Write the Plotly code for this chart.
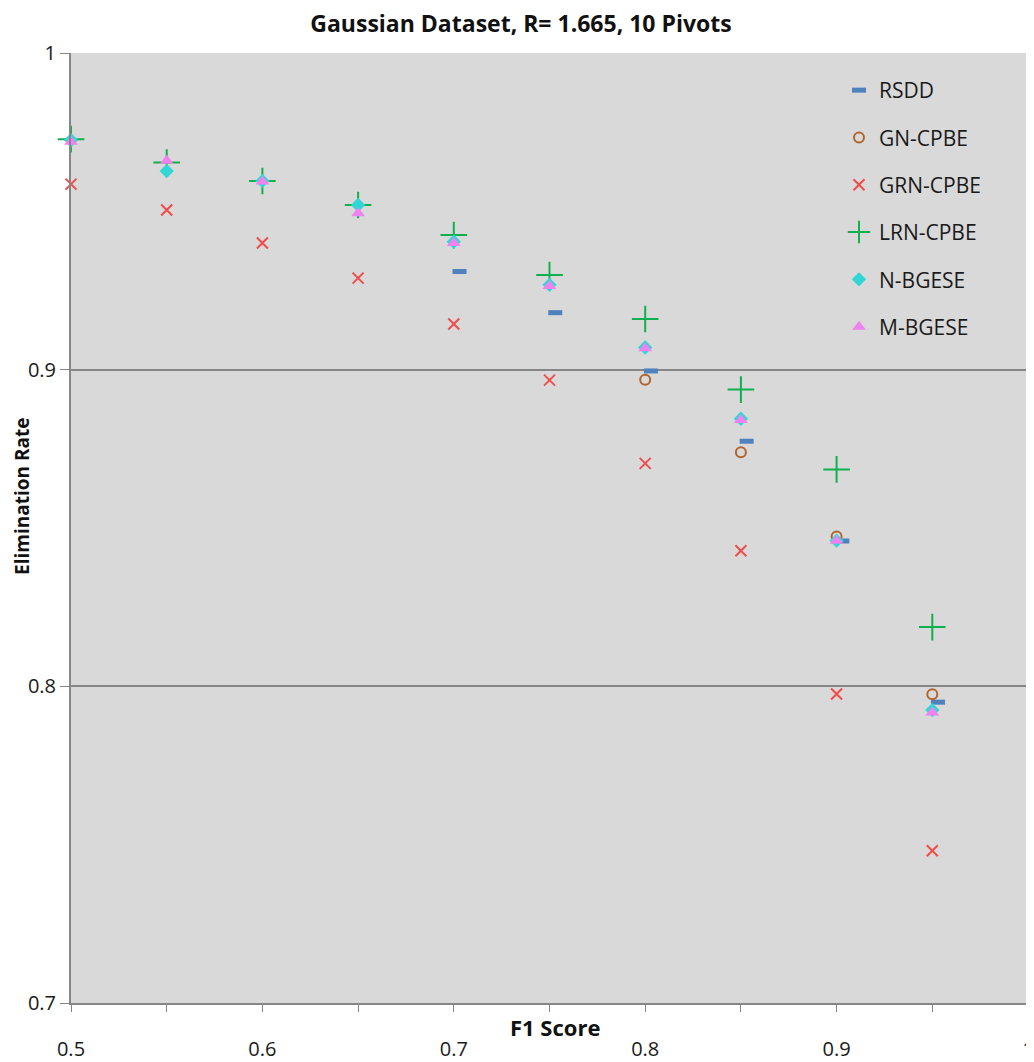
import plotly.graph_objects as go

f1 = [0.5, 0.55, 0.6, 0.65, 0.7, 0.75, 0.8, 0.85, 0.9, 0.95]
f1_rsdd = [0.503, 0.553, 0.603, 0.653, 0.703, 0.753, 0.803, 0.853, 0.903, 0.953]

rsdd = [None, None, None, None, 0.931, 0.918, 0.8996, 0.8774, 0.8459, 0.795]
gn_cpbe = [None, None, None, None, None, None, 0.8968, 0.8739, 0.8473, 0.7975]
grn_cpbe = [0.9586, 0.9504, 0.940, 0.9289, 0.9144, 0.8967, 0.8704, 0.8428, 0.7976, 0.7481]
lrn_cpbe = [0.9728, 0.9654, 0.9596, 0.952, 0.9425, 0.9299, 0.916, 0.8937, 0.8685, 0.8187]
n_bgese = [0.9725, 0.9627, 0.9596, 0.952, 0.9404, 0.9268, 0.907, 0.8845, 0.846, 0.7925]
m_bgese = [0.972, 0.966, 0.9594, 0.9494, 0.940, 0.9264, 0.9068, 0.8841, 0.846, 0.7917]

x_ticks = [0.5, 0.6, 0.7, 0.8, 0.9, 1.0]
x_tick_labels = ["0.5", "0.6", "0.7", "0.8", "0.9", "1"]
y_ticks = [0.7, 0.8, 0.9, 1.0]
y_tick_labels = ["0.7", "0.8", "0.9", "1"]

FONT = "Open Sans"
OFF = 8  # page body margin
W, H = 1034 - OFF, 1062 - OFF
ML, MT = 71 - OFF, 53 - OFF
MR = W - (1028 - OFF)
MB = H - (1003 - OFF)
PW = W - ML - MR
PH = H - MT - MB

fig = go.Figure()

def add(name, x, y, marker, grp):
    fig.add_trace(go.Scatter(x=x, y=y, mode="markers", name=name, marker=marker,
                             legendgroup=grp, cliponaxis=False))

add("RSDD", f1_rsdd, rsdd, dict(symbol="line-ew", size=10, color="#4F81BD",
                                line=dict(width=5, color="#4F81BD")), "a")
add("GN-CPBE", f1, gn_cpbe, dict(symbol="circle-open", size=10, color="#B0652E",
                                 line=dict(width=2, color="#B0652E")), "b")
add("GRN-CPBE", f1, grn_cpbe, dict(symbol="x-thin-open", size=11, color="#F24B4B",
                                   line=dict(width=2, color="#F24B4B")), "c")
add("LRN-CPBE", f1, lrn_cpbe, dict(symbol="cross-thin-open", size=19, color="#10B050",
                                   line=dict(width=2, color="#10B050")), "d")
add("N-BGESE", f1, n_bgese, dict(symbol="diamond", size=11, color="#33D6D6",
                                 line=dict(width=0)), "e")
add("M-BGESE", f1, m_bgese, dict(symbol="triangle-up", size=12, color="#EE82EE",
                                 line=dict(width=0)), "f")

fig.update_layout(
    width=W, height=H,
    margin=dict(l=ML, r=MR, t=MT, b=MB, autoexpand=False),
    paper_bgcolor="white",
    plot_bgcolor="#D9D9D9",
    font=dict(family=FONT, size=19, color="#1a1a1a"),
    title=dict(text="<b>Gaussian Dataset, R= 1.665, 10 Pivots</b>", x=0.5, xanchor="center",
               y=1 - (24 - OFF) / H, yanchor="middle", font=dict(size=23, color="#111111")),
    showlegend=True,
    legend=dict(x=(861 - 22 - 71) / PW, y=1 - (70 - 53) / PH, xanchor="left", yanchor="top",
                bgcolor="rgba(0,0,0,0)",
                font=dict(size=21, color="#1a1a1a"), tracegroupgap=17, itemwidth=30),
    xaxis=dict(range=[0.5, 1.0], tickvals=x_ticks, ticktext=x_tick_labels, automargin=False,
               showgrid=False, zeroline=False, showline=True, linecolor="#868686", linewidth=2,
               ticks="outside", ticklen=7, tickcolor="#868686",
               minor=dict(ticks="outside", ticklen=7, tickcolor="#868686", dtick=0.05, showgrid=False),
               ticklabelstandoff=20, ticklabeloverflow="allow",
               tickfont=dict(size=20, color="#1a1a1a")),
    yaxis=dict(range=[0.7, 1.0], tickvals=y_ticks, ticktext=y_tick_labels, automargin=False,
               showgrid=True, gridcolor="#868686", gridwidth=2, zeroline=False,
               showline=True, linecolor="#868686", linewidth=2,
               ticks="outside", ticklen=9, tickcolor="#868686", ticklabeloverflow="allow",
               tickfont=dict(size=20, color="#1a1a1a")),
)

fig.add_annotation(text="<b>F1 Score</b>", x=(555 - 71) / PW, xref="paper", y=-(1027 - 1003) / PH, yref="paper",
                   xanchor="center", yanchor="middle", showarrow=False,
                   font=dict(size=22, color="#111111", family=FONT))
fig.add_annotation(text="<b>Elimination Rate</b>", x=-(71 - 22) / PW, xref="paper",
                   y=1 - (497 - 53) / PH, yref="paper", textangle=-90,
                   xanchor="center", yanchor="middle", showarrow=False,
                   font=dict(size=19, color="#111111", family=FONT))

fig.write_html("out.html")
